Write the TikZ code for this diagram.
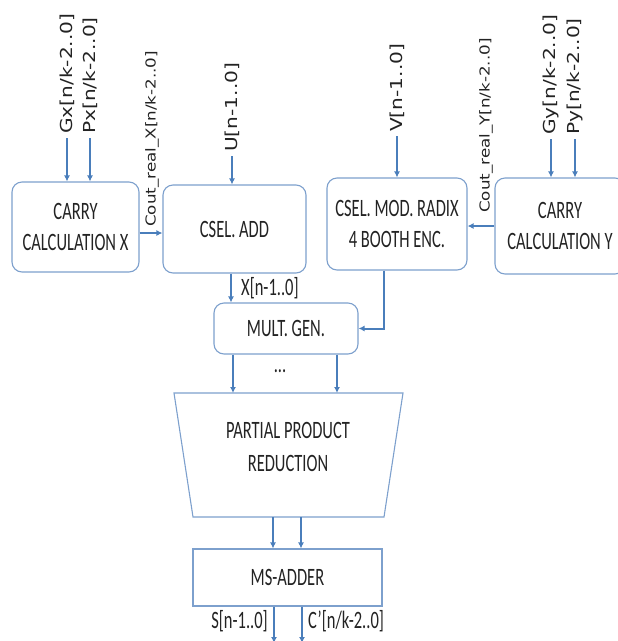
\documentclass[tikz,border=0pt]{standalone}
\usepackage{fontspec}
\setmainfont{Carlito}
\newfontfamily\boxfont[FakeStretch=0.66]{Carlito}
\newfontfamily\vfont[FakeStretch=1.22]{DejaVu Sans}
\usetikzlibrary{arrows.meta,calc}
\definecolor{arrowblue}{RGB}{74,126,187}
\definecolor{boxblue}{RGB}{125,160,205}
\definecolor{txt}{RGB}{35,35,35}
\begin{document}
\begin{tikzpicture}[x=1pt,y=-1pt,
  blk/.style={draw=boxblue, line width=1.1pt, rounded corners=10pt, fill=white, align=center, text=txt, font=\boxfont\fontsize{25}{31}\selectfont, inner sep=0pt},
  sqblk/.style={blk, rounded corners=0pt},
  trap/.style={draw=boxblue, line width=1.1pt},
  arr/.style={draw=arrowblue, line width=2pt, -{Latex[length=6pt,width=6pt]}},
  vlab/.style={rotate=90, anchor=west, font=\vfont\fontsize{16.5}{20}\selectfont, text=txt, inner sep=4pt},
  slab/.style={rotate=90, anchor=west, font=\vfont\fontsize{13.7}{16}\selectfont, text=txt, inner sep=2pt},
  hlab/.style={font=\boxfont\fontsize{25}{30}\selectfont, text=txt, inner sep=0pt}
]
\useasboundingbox (0,0) rectangle (618,641);
\clip (0,0) rectangle (618,641);

% blocks
\node[blk, minimum width=127pt, minimum height=90pt] (cx) at (75.5,227) {CARRY\\CALCULATION X};
\node[blk, minimum width=143pt, minimum height=88pt] (ca) at (234.5,229) {CSEL. ADD};
\node[blk, minimum width=140pt, minimum height=92pt] (cb) at (397,224) {CSEL. MOD. RADIX\\4 BOOTH ENC.};
\node[blk, minimum width=130pt, minimum height=96pt] (cy) at (560,226) {CARRY\\CALCULATION Y};
\node[blk, minimum width=144pt, minimum height=51pt] (mg) at (286,328.5) {MULT. GEN.};
\draw[trap] (174,393) -- (403,393) -- (384,517) -- (193,517) -- cycle;
\coordinate (trT) at (288,393);
\coordinate (trB) at (288,517);
\node[hlab, align=center, font=\boxfont\fontsize{25}{33}\selectfont] (pp) at (288,447) {PARTIAL PRODUCT\\REDUCTION};
\node[sqblk, minimum width=189pt, minimum height=57pt] (ms) at (287.5,577.5) {MS-ADDER};

% top inputs
\node[vlab] (gxl) at (67,138) {Gx[n/k-2..0]};
\node[vlab] (pxl) at (90,138) {Px[n/k-2..0]};
\node[vlab] (ul) at (232,156) {U[n-1..0]};
\node[vlab] (vl) at (397,136) {V[n-1..0]};
\node[vlab] (gyl) at (551,139) {Gy[n/k-2..0]};
\node[vlab] (pyl) at (575,139) {Py[n/k-2..0]};
\draw[arr] (gxl.west) -- (gxl.west |- cx.north);
\draw[arr] (pxl.west) -- (pxl.west |- cx.north);
\draw[arr] (ul.west) -- (ul.west |- ca.north);
\draw[arr] (vl.west) -- (vl.west |- cb.north);
\draw[arr] (gyl.west) -- (gyl.west |- cy.north);
\draw[arr] (pyl.west) -- (pyl.west |- cy.north);

% carry outputs
\node[slab] (cxl) at (152,229) {Cout\_real\_X[n/k-2..0]};
\node[slab] (cyl) at (486,215) {Cout\_real\_Y[n/k-2..0]};
\coordinate (lx) at (0,233);
\draw[arr] (cx.east |- lx) -- (ca.west |- lx);
\draw[arr] (cy.west) -- (cb.east |- cy.west);

% to multiple generator
\coordinate (xa) at (231,0);
\draw[arr] (ca.south -| xa) -- (mg.north -| xa);
\node[hlab, anchor=west] (xl) at (241,288.5) {X[n-1..0]};
\coordinate (xb) at (384,0);
\draw[arr] (cb.south -| xb) |- (mg.east);

% to partial product reduction
\coordinate (m1) at (233,0);
\coordinate (m2) at (337,0);
\draw[arr] (mg.south -| m1) -- (trT -| m1);
\draw[arr] (mg.south -| m2) -- (trT -| m2);
\node[hlab] (dots) at (280,371) {...};

% to MS adder
\coordinate (r1) at (273,0);
\coordinate (r2) at (301,0);
\draw[arr] (trB -| r1) -- (ms.north -| r1);
\draw[arr] (trB -| r2) -- (ms.north -| r2);

% outputs
\coordinate (ob) at (0,643);
\coordinate (o1) at (274,0);
\coordinate (o2) at (302,0);
\draw[arr] (ms.south -| o1) -- (ob -| o1);
\draw[arr] (ms.south -| o2) -- (ob -| o2);
\node[hlab, anchor=east] (sl) at (268,621) {S[n-1..0]};
\node[hlab, anchor=west] (cl) at (308,621) {C’[n/k-2..0]};
\end{tikzpicture}
\end{document}
